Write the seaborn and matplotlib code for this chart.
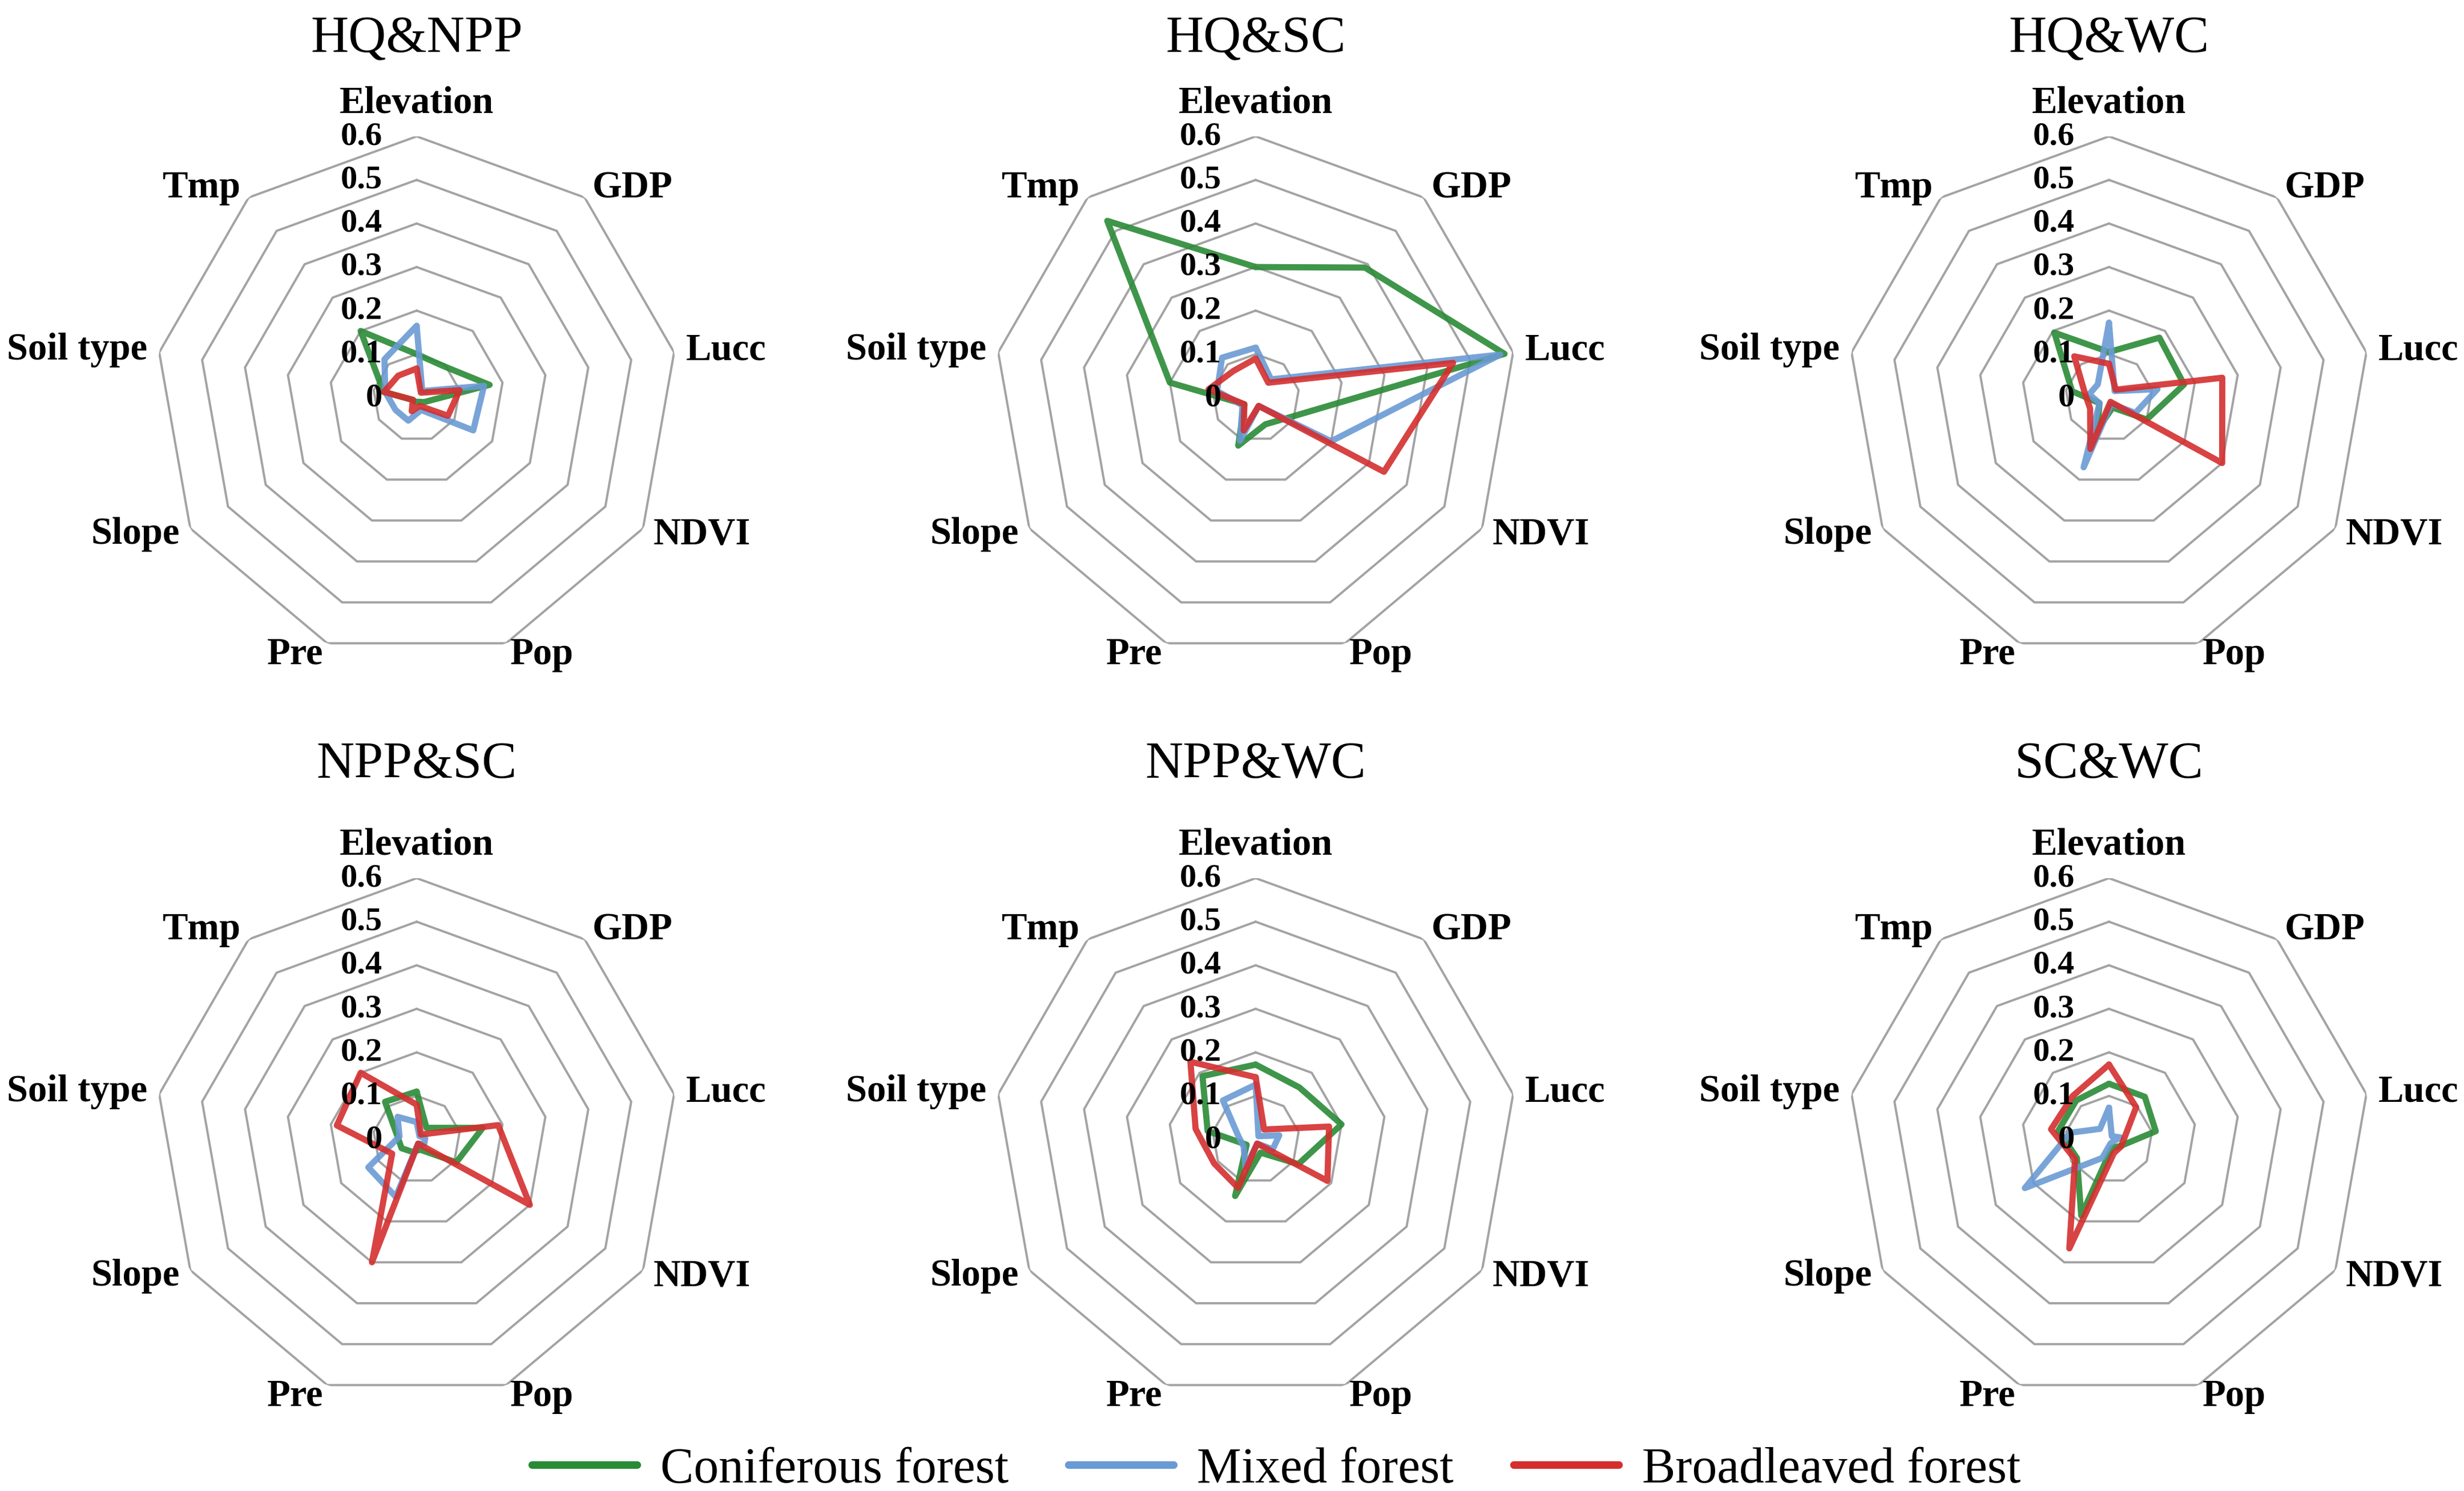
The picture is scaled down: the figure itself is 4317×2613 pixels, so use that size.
import numpy as np
import pandas as pd
import matplotlib
matplotlib.use("Agg")
import matplotlib.pyplot as plt
from matplotlib.lines import Line2D
import seaborn as sns

# Radar axes (clockwise from the top)
factors = ["Elevation", "GDP", "Lucc", "NDVI", "Pop", "Pre", "Slope", "Soil type", "Tmp"]
forests = ["Coniferous forest", "Mixed forest", "Broadleaved forest"]
panels = ["HQ&NPP", "HQ&SC", "HQ&WC", "NPP&SC", "NPP&WC", "SC&WC"]
ticks = [0, 0.1, 0.2, 0.3, 0.4, 0.5, 0.6]

# Values (order follows `factors`)
hq_npp_conif = [0.10, 0.095, 0.17, 0.02, 0.01, 0.01, 0.01, 0.077, 0.20]
hq_npp_mixed = [0.165, 0.02, 0.157, 0.15, 0.03, 0.056, 0.056, 0.073, 0.115]
hq_npp_broad = [0.067, 0.015, 0.10, 0.083, 0.02, 0.033, 0.01, 0.076, 0.066]

hq_sc_conif = [0.30, 0.39, 0.58, 0.09, 0.065, 0.117, 0.03, 0.20, 0.53]
hq_sc_mixed = [0.115, 0.055, 0.57, 0.20, 0.02, 0.105, 0.035, 0.09, 0.12]
hq_sc_broad = [0.09, 0.045, 0.46, 0.34, 0.02, 0.08, 0.03, 0.11, 0.08]

hq_wc_conif = [0.105, 0.18, 0.175, 0.10, 0.024, 0.08, 0.025, 0.086, 0.195]
hq_wc_mixed = [0.172, 0.02, 0.113, 0.07, 0.015, 0.17, 0.025, 0.046, 0.04]
hq_wc_broad = [0.078, 0.024, 0.264, 0.30, 0.01, 0.125, 0.05, 0.056, 0.124]

npp_sc_conif = [0.11, 0.035, 0.154, 0.105, 0.025, 0.03, 0.04, 0.045, 0.113]
npp_sc_mixed = [0.04, 0.01, 0.02, 0.02, 0.01, 0.14, 0.128, 0.04, 0.068]
npp_sc_broad = [0.08, 0.015, 0.19, 0.30, 0.01, 0.30, 0.065, 0.186, 0.20]

npp_wc_conif = [0.172, 0.156, 0.20, 0.113, 0.032, 0.138, 0.024, 0.112, 0.19]
npp_wc_mixed = [0.126, 0.01, 0.055, 0.045, 0.01, 0.068, 0.032, 0.04, 0.117]
npp_wc_broad = [0.143, 0.03, 0.171, 0.19, 0.01, 0.118, 0.11, 0.14, 0.233]

sc_wc_conif = [0.128, 0.128, 0.109, 0.03, 0.02, 0.186, 0.085, 0.118, 0.117]
sc_wc_mixed = [0.073, 0.01, 0.027, 0.01, 0.01, 0.045, 0.223, 0.09, 0.032]
sc_wc_broad = [0.172, 0.097, 0.037, 0.032, 0.033, 0.266, 0.09, 0.135, 0.13]

panel_values = [
    [hq_npp_conif, hq_npp_mixed, hq_npp_broad],
    [hq_sc_conif, hq_sc_mixed, hq_sc_broad],
    [hq_wc_conif, hq_wc_mixed, hq_wc_broad],
    [npp_sc_conif, npp_sc_mixed, npp_sc_broad],
    [npp_wc_conif, npp_wc_mixed, npp_wc_broad],
    [sc_wc_conif, sc_wc_mixed, sc_wc_broad],
]

colors = {"Coniferous forest": "#2A8B36",
          "Mixed forest": "#6A9AD4",
          "Broadleaved forest": "#D42E2E"}

sns.set_theme(style="white")
plt.rcParams["font.family"] = ["Liberation Serif", "DejaVu Serif"]
plt.rcParams["text.color"] = "black"

W, H = 4317, 2613
fig = plt.figure(figsize=(W / 300, H / 300), dpi=300)

angles = np.linspace(0, 2 * np.pi, len(factors), endpoint=False)
closed = np.append(angles, 2 * np.pi)

# layout in pixels: panel centres, outer ring radius, title rows
centers = [(730, 697), (2200, 697), (3695, 697),
           (730, 1997), (2200, 1997), (3695, 1997)]
title_y = [69, 69, 69, 1341, 1341, 1341]
R = 458

for i, name in enumerate(panels):
    cx, cy = centers[i]
    ax = fig.add_axes([(cx - R) / W, 1 - (cy + R) / H, 2 * R / W, 2 * R / H],
                      projection="polar")
    ax.set_theta_zero_location("N")
    ax.set_theta_direction(-1)

    # nonagon grid
    for r in ticks[1:]:
        ax.plot(closed, [r] * len(closed), color="#a3a3a3", lw=0.95, zorder=1)

    rows = []
    for forest, vals in zip(forests, panel_values[i]):
        for a, v in zip(closed, vals + vals[:1]):
            rows.append({"angle": a, "value": v, "forest": forest})
    df = pd.DataFrame(rows)
    sns.lineplot(data=df, x="angle", y="value", hue="forest", palette=colors,
                 hue_order=forests, sort=False, estimator=None, lw=2.6,
                 alpha=0.9, legend=False, ax=ax, zorder=3)

    ax.set_xlim(0, 2 * np.pi)
    ax.set_ylim(0, 0.6)
    ax.set_xticks([])
    ax.set_yticks([])
    ax.grid(False)
    ax.spines["polar"].set_visible(False)
    ax.set_xlabel("")
    ax.set_ylabel("")
    ax.set_facecolor("none")

    # axis labels
    for a, lab in zip(angles, factors):
        deg = np.degrees(a)
        if deg == 0:
            ax.text(a, 0.636, lab, ha="center", va="bottom", fontsize=16,
                    fontweight="bold")
        else:
            ha = "left" if deg < 180 else "right"
            ax.text(a, 0.628, lab, ha=ha, va="center", fontsize=16,
                    fontweight="bold")

    # radial tick labels
    for t in ticks:
        ax.annotate(f"{t:g}", xy=(0, t), xytext=(-14.4, 0),
                    textcoords="offset points", ha="right", va="center",
                    fontsize=14, fontweight="bold", annotation_clip=False,
                    zorder=5)

    fig.text(cx / W, 1 - title_y[i] / H, name, ha="center", va="center",
             fontsize=22)

handles = [Line2D([0], [0], color=colors[f], lw=3.2) for f in forests]
fig.legend(handles, forests, loc="center", bbox_to_anchor=(0.518, 0.014),
           ncol=3, frameon=False, fontsize=21, handlelength=2.1,
           handletextpad=0.47, columnspacing=1.2)

fig.savefig("out.png", dpi=300)
